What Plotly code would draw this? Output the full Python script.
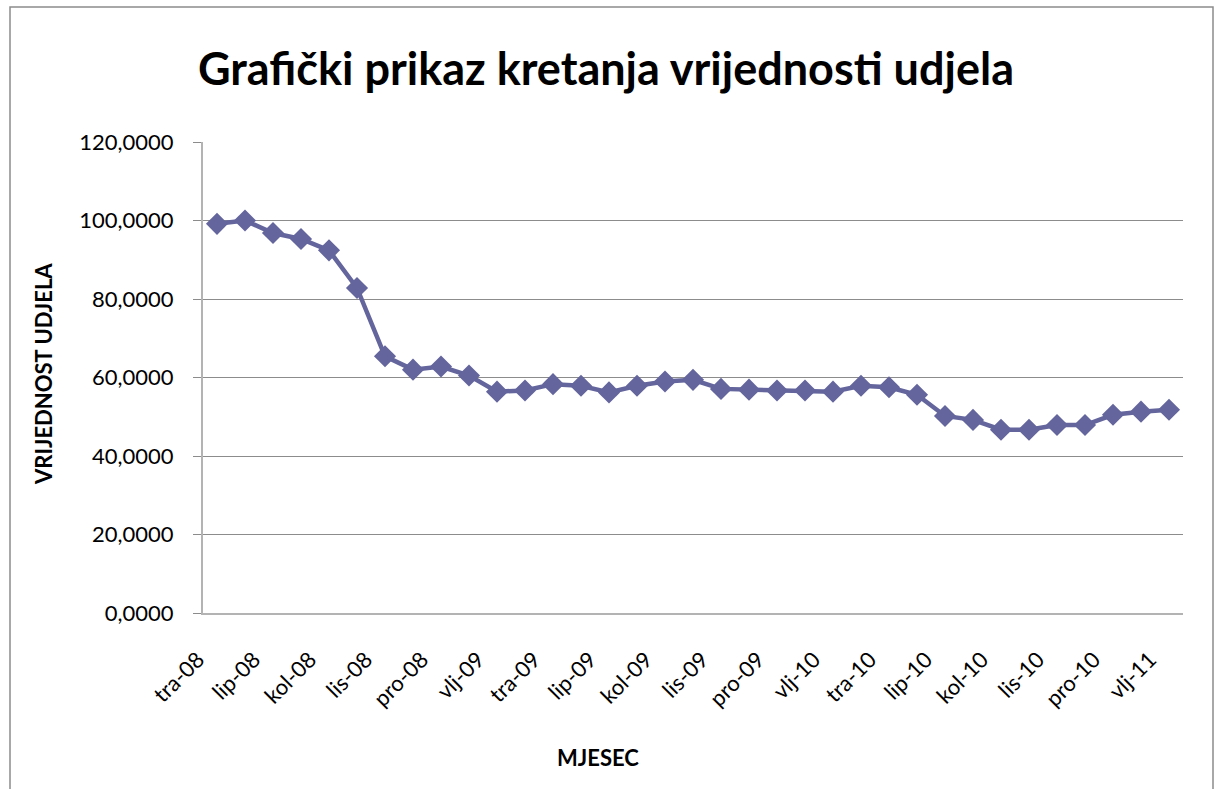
import plotly.graph_objects as go

# Data
months = ["tra-08", "svi-08", "lip-08", "srp-08", "kol-08", "ruj-08", "lis-08", "stu-08", "pro-08",
          "sij-09", "vlj-09", "ožu-09", "tra-09", "svi-09", "lip-09", "srp-09", "kol-09", "ruj-09",
          "lis-09", "stu-09", "pro-09", "sij-10", "vlj-10", "ožu-10", "tra-10", "svi-10", "lip-10",
          "srp-10", "kol-10", "ruj-10", "lis-10", "stu-10", "pro-10", "sij-11", "vlj-11"]
values = [99.15, 100.0, 96.8, 95.3, 92.4, 82.8, 65.4, 62.0, 62.8, 60.5,
          56.4, 56.7, 58.3, 57.9, 56.2, 57.9, 59.0, 59.4, 57.1, 56.9,
          56.7, 56.7, 56.4, 57.9, 57.5, 55.6, 50.2, 49.2, 46.7, 46.7,
          47.9, 47.9, 50.5, 51.3, 51.8]
y_ticks = [0, 20, 40, 60, 80, 100, 120]
y_tick_labels = ["0,0000", "20,0000", "40,0000", "60,0000", "80,0000", "100,0000", "120,0000"]

title_text = "Grafički prikaz kretanja vrijednosti udjela"
x_title = "MJESEC"
y_title = "VRIJEDNOST UDJELA"

idx = list(range(len(months)))
tick_idx = idx[::2]
tick_txt = [months[i] for i in tick_idx]

LINE = "#63659c"
FONT = "Lato, Carlito, 'Open Sans', sans-serif"

fig = go.Figure()
fig.add_trace(go.Scatter(
    x=idx, y=values, mode="lines+markers",
    line=dict(color=LINE, width=4.5),
    marker=dict(symbol="diamond", size=17, color=LINE),
    hoverinfo="skip", showlegend=False,
))

W, H = 1220, 789
L, R, T, B = 203, 37, 142, 176
pw, ph = W - L - R, H - T - B

def px(x):
    return (x - L) / pw

def py(y):
    return (H - B - y) / ph

fig.update_layout(
    width=W, height=H,
    margin=dict(l=L, r=R, t=T, b=B),
    paper_bgcolor="white", plot_bgcolor="white",
    font=dict(family=FONT, color="black"),
    xaxis=dict(
        range=[-0.5, len(months) - 0.5],
        tickmode="array", tickvals=tick_idx, ticktext=tick_txt,
        tickangle=-45, tickfont=dict(size=22, family=FONT),
        showgrid=False, zeroline=False,
        showline=True, linecolor="#b3b3b3", linewidth=2,
        ticks="", ticklabelstandoff=23, ticklabelshift=-19,
    ),
    yaxis=dict(
        range=[0, 120],
        tickmode="array", tickvals=y_ticks, ticktext=y_tick_labels,
        tickfont=dict(size=22, family=FONT),
        showgrid=True, gridcolor="#8c8c8c", gridwidth=1,
        zeroline=False,
        showline=True, linecolor="#b3b3b3", linewidth=2,
        ticks="outside", ticklen=8, tickcolor="#8c8c8c", tickwidth=1,
        ticklabelstandoff=15,
    ),
    annotations=[
        dict(text=title_text, x=px(606), y=py(68), xref="paper", yref="paper",
             xanchor="center", yanchor="middle", showarrow=False,
             font=dict(size=45, family=FONT, color="black", weight="bold")),
        dict(text=x_title, x=px(598), y=py(757), xref="paper", yref="paper",
             xanchor="center", yanchor="middle", showarrow=False,
             font=dict(size=22, family=FONT, color="black", weight="bold")),
        dict(text=y_title, x=px(43), y=py(374), xref="paper", yref="paper",
             xanchor="center", yanchor="middle", showarrow=False, textangle=-90,
             font=dict(size=22, family=FONT, color="black", weight="bold")),
    ],
    shapes=[
        dict(type="rect", xref="paper", yref="paper",
             x0=px(10), x1=px(1213), y0=py(820), y1=py(7),
             line=dict(color="#8c8c8c", width=1.5), fillcolor="rgba(0,0,0,0)", layer="below"),
    ],
)

fig.write_html("out.html", config={"displayModeBar": False},
               post_script="document.body.style.margin='0';document.body.style.overflow='hidden';")
